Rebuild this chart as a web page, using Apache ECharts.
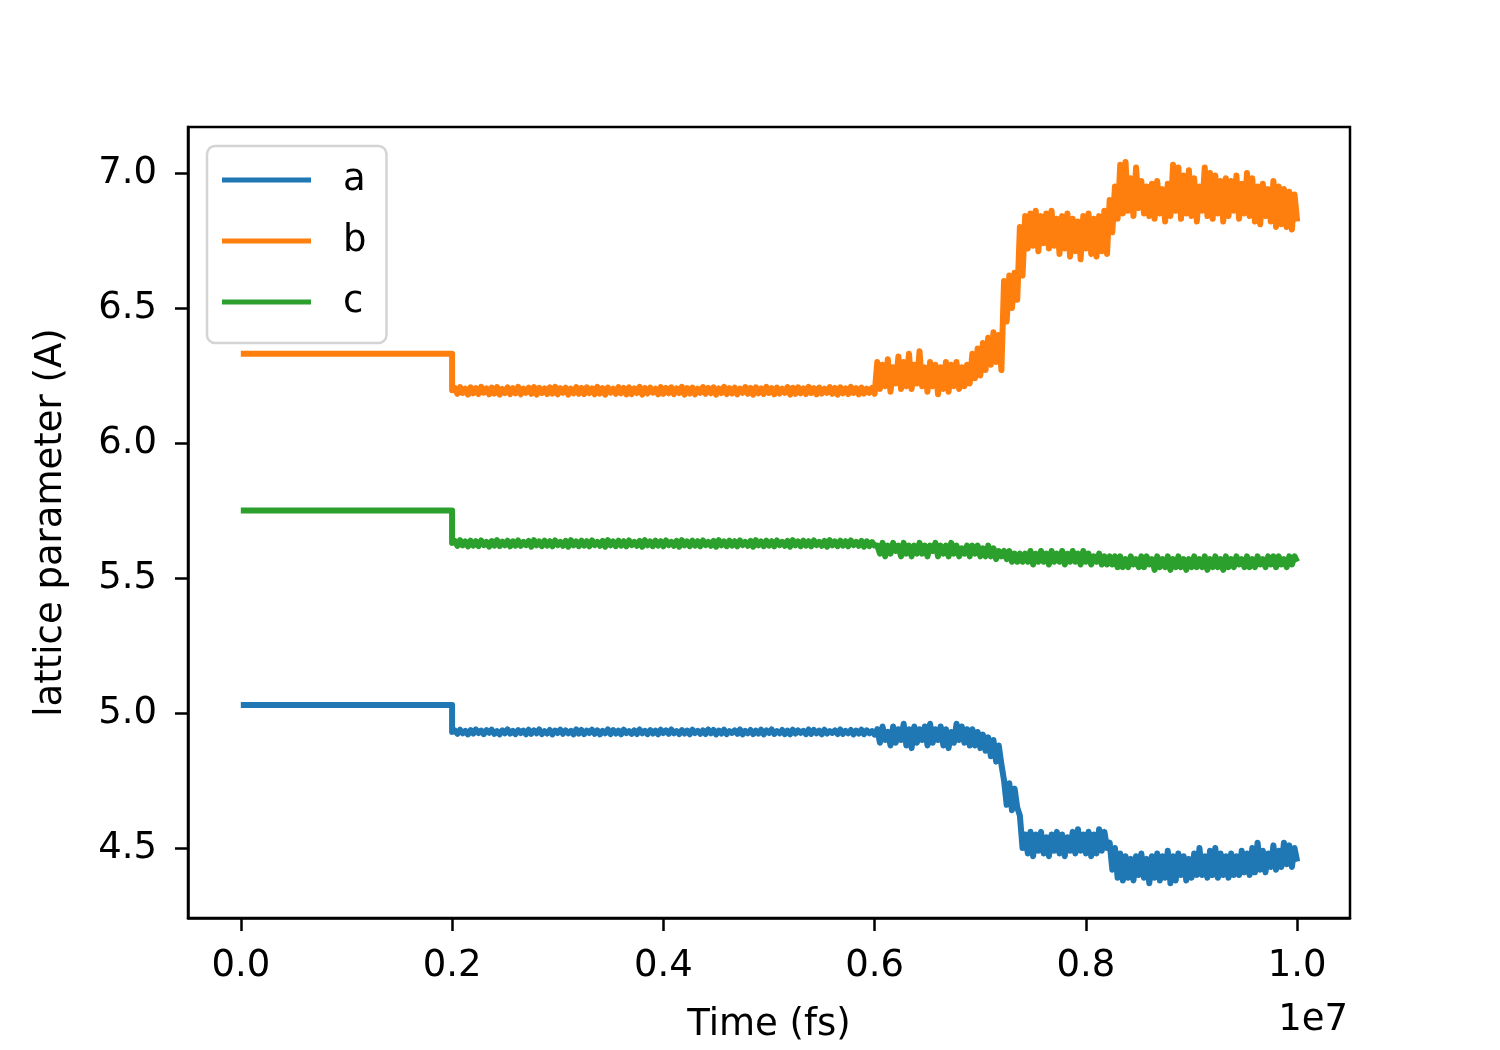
<!DOCTYPE html>
<html>
<head>
<meta charset="utf-8">
<script src="https://cdn.jsdelivr.net/npm/echarts@6/dist/echarts.min.js"></script>
<style>html,body{margin:0;padding:0;background:#fff;}#chart{width:1500px;height:1050px;}</style>
</head>
<body>
<div id="chart"></div>
<script>
// ---- data (time in fs, lattice parameters in Angstrom) ----
const seriesNames = ['a', 'b', 'c'];
const seriesColors = ['#1f77b4', '#ff7f0e', '#2ca02c'];
const preTimes = [0, 2000000];
const quietStart = 2000000, quietEnd = 6000000, runEnd = 10000000;
const xTicks = [0, 2000000, 4000000, 6000000, 8000000, 10000000];
const yTicks = [4.5, 5.0, 5.5, 6.0, 6.5, 7.0];

const aPre = [5.03, 5.03];
const bPre = [6.33, 6.33];
const cPre = [5.75, 5.75];

const aQuiet = [4.930,
 4.936,4.923,4.938,4.925,4.934,4.921,4.937,4.924,4.939,4.926,
 4.935,4.922,4.937,4.927,4.938,4.923,4.933,4.921,4.936,4.925,
 4.939,4.924,4.934,4.922,4.937,4.926,4.935,4.921,4.938,4.923,
 4.936,4.925,4.939,4.922,4.933,4.924,4.937,4.921,4.935,4.926,
 4.938,4.923,4.936,4.925,4.934,4.921,4.939,4.924,4.937,4.922,
 4.935,4.926,4.938,4.923,4.936,4.921,4.934,4.925,4.939,4.922,
 4.937,4.924,4.935,4.921,4.938,4.926,4.933,4.923,4.936,4.922,
 4.939,4.925,4.934,4.922,4.937,4.924,4.935,4.921,4.938,4.926,
 4.936,4.923,4.939,4.925,4.933,4.922,4.937,4.924,4.935,4.921,
 4.938,4.926,4.934,4.923,4.936,4.922,4.939,4.925,4.937,4.921,
 4.935,4.924,4.938,4.922,4.933,4.926,4.936,4.923,4.939,4.921,
 4.934,4.925,4.937,4.922,4.935,4.924,4.938,4.921,4.936,4.926,
 4.939,4.923,4.933,4.925,4.937,4.922,4.935,4.921,4.938,4.924,
 4.936,4.926,4.934,4.922,4.939,4.923,4.937,4.925,4.935,4.921,
 4.938,4.924,4.933,4.926,4.936,4.922,4.939,4.923,4.934,4.925,
 4.937,4.921,4.935,4.924,4.938,4.922,4.936,4.925,4.933,4.920];
const bQuiet = [6.195,
 6.204,6.182,6.207,6.185,6.201,6.179,6.206,6.184,6.203,6.181,
 6.208,6.186,6.202,6.180,6.205,6.183,6.207,6.179,6.200,6.185,
 6.206,6.181,6.203,6.184,6.208,6.180,6.201,6.186,6.205,6.182,
 6.207,6.179,6.204,6.185,6.202,6.181,6.206,6.183,6.208,6.180,
 6.203,6.186,6.205,6.179,6.201,6.184,6.207,6.182,6.204,6.181,
 6.206,6.185,6.202,6.180,6.208,6.183,6.203,6.179,6.205,6.186,
 6.201,6.182,6.207,6.184,6.204,6.180,6.206,6.181,6.202,6.185,
 6.208,6.179,6.203,6.183,6.205,6.186,6.201,6.180,6.207,6.182,
 6.204,6.184,6.206,6.181,6.202,6.185,6.208,6.179,6.203,6.183,
 6.205,6.180,6.201,6.186,6.207,6.182,6.204,6.184,6.206,6.179,
 6.202,6.185,6.208,6.181,6.203,6.183,6.205,6.180,6.201,6.186,
 6.207,6.182,6.204,6.179,6.206,6.184,6.202,6.181,6.208,6.185,
 6.203,6.180,6.205,6.183,6.201,6.186,6.207,6.179,6.204,6.182,
 6.206,6.184,6.202,6.181,6.208,6.185,6.203,6.180,6.205,6.183,
 6.201,6.186,6.207,6.182,6.204,6.179,6.206,6.184,6.202,6.181,
 6.208,6.185,6.203,6.180,6.205,6.183,6.201,6.186,6.204,6.182];
const cQuiet = [5.630,
 5.637,5.619,5.640,5.621,5.635,5.617,5.638,5.620,5.636,5.618,
 5.639,5.622,5.634,5.616,5.637,5.620,5.640,5.618,5.635,5.621,
 5.638,5.617,5.636,5.620,5.639,5.619,5.634,5.622,5.637,5.616,
 5.640,5.621,5.635,5.618,5.638,5.620,5.636,5.617,5.639,5.622,
 5.634,5.619,5.637,5.616,5.640,5.621,5.635,5.618,5.638,5.620,
 5.636,5.617,5.639,5.622,5.634,5.619,5.637,5.616,5.640,5.621,
 5.635,5.618,5.638,5.620,5.636,5.617,5.639,5.622,5.634,5.619,
 5.637,5.616,5.640,5.621,5.635,5.618,5.638,5.620,5.636,5.617,
 5.639,5.622,5.634,5.619,5.637,5.616,5.640,5.621,5.635,5.618,
 5.638,5.620,5.636,5.617,5.639,5.622,5.634,5.619,5.637,5.616,
 5.640,5.621,5.635,5.618,5.638,5.620,5.636,5.617,5.639,5.622,
 5.634,5.619,5.637,5.616,5.640,5.621,5.635,5.618,5.638,5.620,
 5.636,5.617,5.639,5.622,5.634,5.619,5.637,5.616,5.640,5.621,
 5.635,5.618,5.638,5.620,5.636,5.617,5.639,5.622,5.634,5.619,
 5.637,5.616,5.640,5.621,5.635,5.618,5.638,5.620,5.636,5.617,
 5.639,5.622,5.634,5.619,5.637,5.616,5.636,5.618,5.633,5.620];

const aNoisy = [
 4.94,4.89,4.95,4.90,4.93,4.88,4.95,4.89,4.94,4.90,
 4.96,4.88,4.94,4.87,4.95,4.89,4.94,4.90,4.95,4.88,
 4.96,4.89,4.94,4.90,4.95,4.88,4.94,4.87,4.93,4.89,
 4.96,4.90,4.95,4.89,4.94,4.88,
 4.94,4.88,4.93,4.87,4.92,4.86,4.91,4.84,4.90,4.82,4.88,4.81,
 4.75,4.66,4.74,4.64,4.72,4.65,
 4.62,4.50,
 4.55,4.48,4.56,4.47,4.55,4.49,4.56,4.48,4.54,4.47,
 4.55,4.49,4.56,4.48,4.55,4.47,4.54,4.49,4.56,4.48,
 4.57,4.49,4.55,4.48,4.56,4.47,4.55,4.48,4.57,4.49,
 4.56,4.50,
 4.52,4.42,4.50,4.39,
 4.48,4.38,4.47,4.39,4.46,4.38,4.47,4.40,4.48,4.39,
 4.46,4.37,4.47,4.39,4.48,4.38,4.47,4.39,4.49,4.37,
 4.47,4.38,4.48,4.40,4.47,4.38,4.46,4.39,4.48,4.40,
 4.50,4.40,4.47,4.39,4.49,4.40,4.50,4.39,4.48,4.40,
 4.47,4.39,4.48,4.40,4.47,4.40,4.49,4.41,4.48,4.40,
 4.50,4.41,4.52,4.42,4.49,4.41,4.48,4.43,4.51,4.42,
 4.49,4.43,4.52,4.44,4.51,4.43,4.50,4.45];
const bNoisy = [
 6.30,6.20,6.29,6.21,6.31,6.19,6.28,6.22,6.32,6.20,
 6.30,6.21,6.33,6.20,6.29,6.22,6.34,6.21,6.28,6.19,
 6.30,6.21,6.29,6.18,6.28,6.20,6.30,6.19,6.29,6.21,
 6.30,6.20,6.28,6.21,6.29,6.22,
 6.33,6.24,6.35,6.25,6.37,6.27,6.39,6.29,6.41,6.30,6.40,6.27,
 6.60,6.45,6.62,6.50,6.63,6.53,
 6.80,6.62,
 6.84,6.72,6.85,6.73,6.86,6.71,6.84,6.74,6.85,6.72,
 6.86,6.73,6.83,6.70,6.84,6.72,6.85,6.69,6.83,6.71,
 6.82,6.68,6.84,6.72,6.85,6.70,6.83,6.69,6.84,6.71,
 6.86,6.70,
 6.90,6.78,6.95,6.83,
 7.03,6.85,7.04,6.86,6.98,6.84,7.02,6.87,6.97,6.85,
 6.95,6.84,6.96,6.83,6.97,6.85,6.94,6.82,6.96,6.84,
 7.03,6.86,7.02,6.83,6.99,6.85,7.01,6.84,6.98,6.82,
 6.95,6.86,7.02,6.84,7.00,6.83,6.99,6.85,6.97,6.82,
 6.98,6.84,6.97,6.86,6.99,6.83,6.96,6.85,7.00,6.84,
 6.98,6.82,6.95,6.81,6.96,6.84,6.94,6.82,6.97,6.80,
 6.95,6.81,6.94,6.80,6.93,6.79,6.92,6.82];
const cNoisy = [
 5.62,5.59,5.63,5.58,5.62,5.59,5.63,5.60,5.62,5.58,
 5.63,5.59,5.62,5.58,5.62,5.59,5.63,5.59,5.62,5.58,
 5.62,5.60,5.63,5.58,5.62,5.59,5.62,5.58,5.63,5.59,
 5.62,5.58,5.61,5.59,5.62,5.58,
 5.62,5.59,5.62,5.58,5.61,5.58,5.62,5.58,5.61,5.57,5.60,5.58,
 5.60,5.57,5.60,5.56,5.59,5.56,
 5.59,5.56,
 5.59,5.56,5.60,5.55,5.59,5.56,5.60,5.56,5.59,5.55,
 5.60,5.56,5.59,5.56,5.60,5.55,5.59,5.56,5.60,5.56,
 5.59,5.55,5.60,5.56,5.59,5.55,5.58,5.56,5.59,5.55,
 5.58,5.55,
 5.58,5.55,5.58,5.54,
 5.58,5.54,5.57,5.54,5.58,5.55,5.57,5.54,5.58,5.54,
 5.58,5.55,5.57,5.53,5.58,5.54,5.57,5.54,5.58,5.53,
 5.57,5.54,5.58,5.54,5.57,5.53,5.57,5.54,5.58,5.54,
 5.57,5.54,5.58,5.53,5.57,5.54,5.58,5.54,5.57,5.53,
 5.58,5.54,5.57,5.54,5.58,5.55,5.57,5.54,5.58,5.54,
 5.57,5.54,5.58,5.55,5.57,5.54,5.58,5.55,5.58,5.54,
 5.58,5.55,5.57,5.54,5.58,5.55,5.58,5.56];

function buildSeries(pre, quiet, noisy) {
  const d = [];
  pre.forEach((v, i) => d.push([preTimes[i], v]));
  quiet.forEach((v, i) => d.push([quietStart + i * (quietEnd - quietStart) / (quiet.length - 1), v]));
  noisy.forEach((v, i) => d.push([quietEnd + (i + 1) * (runEnd - quietEnd) / noisy.length, v]));
  return d;
}
const allData = [
  buildSeries(aPre, aQuiet, aNoisy),
  buildSeries(bPre, bQuiet, bNoisy),
  buildSeries(cPre, cQuiet, cNoisy)
];

const FONT = 'DejaVu Sans';
const FS = 37;
const chart = echarts.init(document.getElementById('chart'), null, {renderer: 'canvas'});
chart.setOption({
  animation: false,
  backgroundColor: '#ffffff',
  textStyle: {fontFamily: FONT},
  grid: {left: 188, top: 127, right: 150, bottom: 132, show: true, borderColor: '#000', borderWidth: 2.5, backgroundColor: 'transparent', containLabel: false, outerBoundsMode: 'none'},
  legend: {
    orient: 'vertical', left: 207, top: 146,
    data: seriesNames,
    icon: 'rect', itemWidth: 89, itemHeight: 5, itemGap: 17,
    padding: [12, 20, 19, 15],
    backgroundColor: 'rgba(255,255,255,0.8)', borderColor: '#d4d4d4', borderWidth: 2.5, borderRadius: 8,
    textStyle: {fontFamily: FONT, fontSize: FS, color: '#000', lineHeight: 44, padding: [0, 0, 0, 27]}
  },
  xAxis: {
    type: 'value', min: -500000, max: 10500000,
    name: 'Time (fs)', nameLocation: 'middle', nameGap: 89,
    nameTextStyle: {fontFamily: FONT, fontSize: FS, color: '#000'},
    axisLine: {show: true, onZero: false, lineStyle: {color: '#000', width: 2.5}},
    axisTick: {show: true, inside: false, length: 13, lineStyle: {color: '#000', width: 2.5}, customValues: xTicks},
    axisLabel: {show: true, margin: 30, fontFamily: FONT, fontSize: FS, color: '#000', customValues: xTicks,
      formatter: v => (v / 1e7).toFixed(1)},
    splitLine: {show: false}
  },
  yAxis: {
    type: 'value', min: 4.241, max: 7.170,
    name: 'lattice parameter (A)', nameLocation: 'middle', nameGap: 118, nameRotate: 90,
    nameTextStyle: {fontFamily: FONT, fontSize: FS, color: '#000'},
    axisLine: {show: true, onZero: false, lineStyle: {color: '#000', width: 2.5}},
    axisTick: {show: true, inside: false, length: 13, lineStyle: {color: '#000', width: 2.5}, customValues: yTicks},
    axisLabel: {show: true, margin: 31, fontFamily: FONT, fontSize: FS, color: '#000', customValues: yTicks,
      formatter: v => v.toFixed(1)},
    splitLine: {show: false}
  },
  graphic: [{
    type: 'text', right: 152, top: 1002,
    style: {text: '1e7', font: FS + 'px "' + FONT + '"', fill: '#000'}
  }],
  series: seriesNames.map((n, k) => ({
    name: n, type: 'line', data: allData[k],
    showSymbol: false, symbol: 'none', smooth: false, sampling: null,
    color: seriesColors[k],
    lineStyle: {color: seriesColors[k], width: 6, join: 'round', cap: 'butt'},
    emphasis: {disabled: true}
  }))
});
</script>
</body>
</html>
